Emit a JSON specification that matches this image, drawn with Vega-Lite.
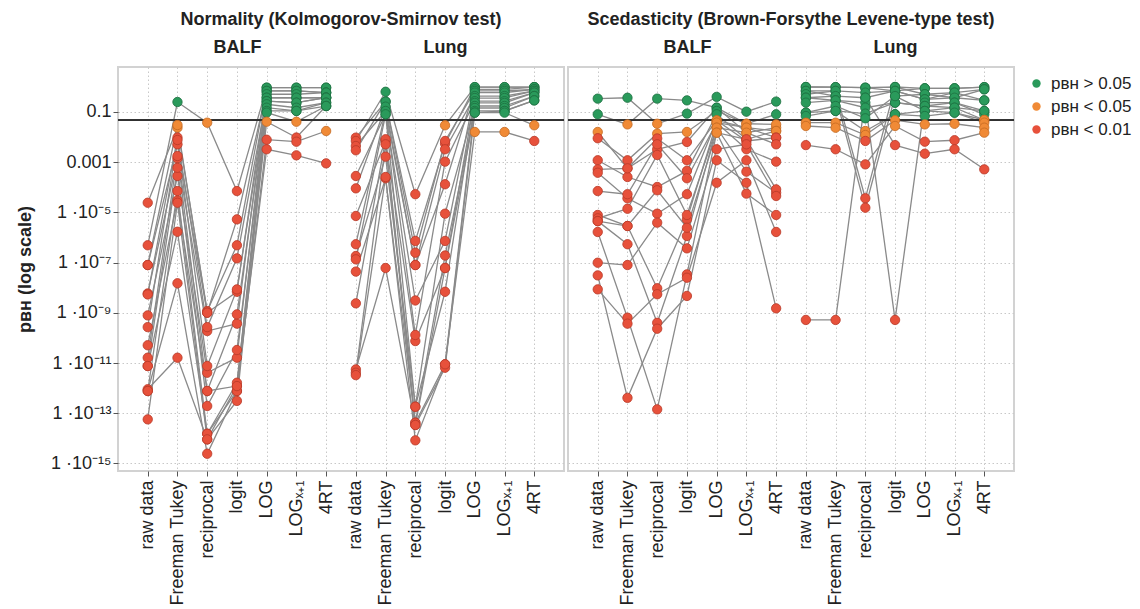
{
"$schema": "https://vega.github.io/schema/vega-lite/v6.json",
"background": "white",
"padding": {"left": 15, "top": 10, "right": 0, "bottom": 0},
"config": {"font": "Liberation Sans", "view": {"stroke": "#d2d2d2", "strokeWidth": 2}, "concat": {"spacing": 0}},
"datasets": {"pv": [
{"test":"N","col":"BALF|raw data","series":"B1","p":2.43e-5},{"test":"N","col":"BALF|Freeman Tukey","series":"B1","p":0.0237},{"test":"N","col":"BALF|reciprocal","series":"B1","p":1.18e-9},{"test":"N","col":"BALF|logit","series":"B1","p":4.9e-7},{"test":"N","col":"BALF|LOG","series":"B1","p":0.93},{"test":"N","col":"BALF|LOGx+1","series":"B1","p":0.93},{"test":"N","col":"BALF|4RT","series":"B1","p":0.93},
{"test":"N","col":"BALF|raw data","series":"B2","p":4.9e-7},{"test":"N","col":"BALF|Freeman Tukey","series":"B2","p":0.25},{"test":"N","col":"BALF|reciprocal","series":"B2","p":0.0375},{"test":"N","col":"BALF|logit","series":"B2","p":7.1e-5},{"test":"N","col":"BALF|LOG","series":"B2","p":0.93},{"test":"N","col":"BALF|LOGx+1","series":"B2","p":0.93},{"test":"N","col":"BALF|4RT","series":"B2","p":0.93},
{"test":"N","col":"BALF|raw data","series":"B3","p":8.0e-8},{"test":"N","col":"BALF|Freeman Tukey","series":"B3","p":0.00516},{"test":"N","col":"BALF|reciprocal","series":"B3","p":1.01e-9},{"test":"N","col":"BALF|logit","series":"B3","p":6.9e-9},{"test":"N","col":"BALF|LOG","series":"B3","p":0.69},{"test":"N","col":"BALF|LOGx+1","series":"B3","p":0.69},{"test":"N","col":"BALF|4RT","series":"B3","p":0.59},
{"test":"N","col":"BALF|raw data","series":"B4","p":8.0e-8},{"test":"N","col":"BALF|Freeman Tukey","series":"B4","p":0.0303},{"test":"N","col":"BALF|reciprocal","series":"B4","p":1.01e-9},{"test":"N","col":"BALF|logit","series":"B4","p":5.3e-6},{"test":"N","col":"BALF|LOG","series":"B4","p":0.69},{"test":"N","col":"BALF|LOGx+1","series":"B4","p":0.69},{"test":"N","col":"BALF|4RT","series":"B4","p":0.59},
{"test":"N","col":"BALF|raw data","series":"B5","p":5.9e-9},{"test":"N","col":"BALF|Freeman Tukey","series":"B5","p":0.00143},{"test":"N","col":"BALF|reciprocal","series":"B5","p":1.88e-10},{"test":"N","col":"BALF|logit","series":"B5","p":3.7e-10},{"test":"N","col":"BALF|LOG","series":"B5","p":0.51},{"test":"N","col":"BALF|LOGx+1","series":"B5","p":0.51},{"test":"N","col":"BALF|4RT","series":"B5","p":0.59},
{"test":"N","col":"BALF|raw data","series":"B6","p":5.4e-9},{"test":"N","col":"BALF|Freeman Tukey","series":"B6","p":0.0096},{"test":"N","col":"BALF|reciprocal","series":"B6","p":2.7e-10},{"test":"N","col":"BALF|logit","series":"B6","p":1.48e-7},{"test":"N","col":"BALF|LOG","series":"B6","p":0.37},{"test":"N","col":"BALF|LOGx+1","series":"B6","p":0.37},{"test":"N","col":"BALF|4RT","series":"B6","p":0.37},
{"test":"N","col":"BALF|raw data","series":"B7","p":7.9e-10},{"test":"N","col":"BALF|Freeman Tukey","series":"B7","p":0.000282},{"test":"N","col":"BALF|reciprocal","series":"B7","p":4.1e-12},{"test":"N","col":"BALF|logit","series":"B7","p":1.63e-11},{"test":"N","col":"BALF|LOG","series":"B7","p":0.37},{"test":"N","col":"BALF|LOGx+1","series":"B7","p":0.37},{"test":"N","col":"BALF|4RT","series":"B7","p":0.37},
{"test":"N","col":"BALF|raw data","series":"B8","p":2.7e-10},{"test":"N","col":"BALF|Freeman Tukey","series":"B8","p":0.00766},{"test":"N","col":"BALF|reciprocal","series":"B8","p":7.6e-12},{"test":"N","col":"BALF|logit","series":"B8","p":8.6e-9},{"test":"N","col":"BALF|LOG","series":"B8","p":0.27},{"test":"N","col":"BALF|LOGx+1","series":"B8","p":0.235},{"test":"N","col":"BALF|4RT","series":"B8","p":0.37},
{"test":"N","col":"BALF|raw data","series":"B9","p":5.1e-11},{"test":"N","col":"BALF|Freeman Tukey","series":"B9","p":3.0e-5},{"test":"N","col":"BALF|reciprocal","series":"B9","p":7.7e-13},{"test":"N","col":"BALF|logit","series":"B9","p":1.21e-12},{"test":"N","col":"BALF|LOG","series":"B9","p":0.27},{"test":"N","col":"BALF|LOGx+1","series":"B9","p":0.235},{"test":"N","col":"BALF|4RT","series":"B9","p":0.37},
{"test":"N","col":"BALF|raw data","series":"B10","p":1.63e-11},{"test":"N","col":"BALF|Freeman Tukey","series":"B10","p":0.00177},{"test":"N","col":"BALF|reciprocal","series":"B10","p":7.7e-13},{"test":"N","col":"BALF|logit","series":"B10","p":8.7e-10},{"test":"N","col":"BALF|LOG","series":"B10","p":0.203},{"test":"N","col":"BALF|LOGx+1","series":"B10","p":0.148},{"test":"N","col":"BALF|4RT","series":"B10","p":0.235},
{"test":"N","col":"BALF|raw data","series":"B11","p":7.6e-12},{"test":"N","col":"BALF|Freeman Tukey","series":"B11","p":1.7e-6},{"test":"N","col":"BALF|reciprocal","series":"B11","p":1.52e-14},{"test":"N","col":"BALF|logit","series":"B11","p":7.7e-13},{"test":"N","col":"BALF|LOG","series":"B11","p":0.148},{"test":"N","col":"BALF|LOGx+1","series":"B11","p":0.11},{"test":"N","col":"BALF|4RT","series":"B11","p":0.235},
{"test":"N","col":"BALF|raw data","series":"B12","p":7.6e-12},{"test":"N","col":"BALF|Freeman Tukey","series":"B12","p":0.0006},{"test":"N","col":"BALF|reciprocal","series":"B12","p":1.94e-13},{"test":"N","col":"BALF|logit","series":"B12","p":3.3e-11},{"test":"N","col":"BALF|LOG","series":"B12","p":0.11},{"test":"N","col":"BALF|LOGx+1","series":"B12","p":0.11},{"test":"N","col":"BALF|4RT","series":"B12","p":0.173},
{"test":"N","col":"BALF|raw data","series":"B13","p":9.0e-13},{"test":"N","col":"BALF|Freeman Tukey","series":"B13","p":1.63e-11},{"test":"N","col":"BALF|reciprocal","series":"B13","p":9.1e-15},{"test":"N","col":"BALF|logit","series":"B13","p":3.1e-13},{"test":"N","col":"BALF|LOG","series":"B13","p":0.094},{"test":"N","col":"BALF|LOGx+1","series":"B13","p":0.041},{"test":"N","col":"BALF|4RT","series":"B13","p":0.173},
{"test":"N","col":"BALF|raw data","series":"B14","p":7.7e-13},{"test":"N","col":"BALF|Freeman Tukey","series":"B14","p":7.1e-5},{"test":"N","col":"BALF|reciprocal","series":"B14","p":1.52e-14},{"test":"N","col":"BALF|logit","series":"B14","p":1.64e-12},{"test":"N","col":"BALF|LOG","series":"B14","p":0.041},{"test":"N","col":"BALF|LOGx+1","series":"B14","p":0.0096},{"test":"N","col":"BALF|4RT","series":"B14","p":0.173},
{"test":"N","col":"BALF|raw data","series":"B15","p":7.7e-13},{"test":"N","col":"BALF|Freeman Tukey","series":"B15","p":1.5e-8},{"test":"N","col":"BALF|reciprocal","series":"B15","p":2.43e-15},{"test":"N","col":"BALF|logit","series":"B15","p":7.7e-13},{"test":"N","col":"BALF|LOG","series":"B15","p":0.00787},{"test":"N","col":"BALF|LOGx+1","series":"B15","p":0.00656},{"test":"N","col":"BALF|4RT","series":"B15","p":0.0175},
{"test":"N","col":"BALF|raw data","series":"B16","p":5.7e-14},{"test":"N","col":"BALF|Freeman Tukey","series":"B16","p":2.43e-5},{"test":"N","col":"BALF|reciprocal","series":"B16","p":9.1e-15},{"test":"N","col":"BALF|logit","series":"B16","p":1.21e-12},{"test":"N","col":"BALF|LOG","series":"B16","p":0.00327},{"test":"N","col":"BALF|LOGx+1","series":"B16","p":0.00188},{"test":"N","col":"BALF|4RT","series":"B16","p":0.0009},
{"test":"N","col":"Lung|raw data","series":"L1","p":0.0095},{"test":"N","col":"Lung|Freeman Tukey","series":"L1","p":0.26},{"test":"N","col":"Lung|reciprocal","series":"L1","p":7.3e-7},{"test":"N","col":"Lung|logit","series":"L1","p":0.00546},{"test":"N","col":"Lung|LOG","series":"L1","p":0.98},{"test":"N","col":"Lung|LOGx+1","series":"L1","p":0.98},{"test":"N","col":"Lung|4RT","series":"L1","p":0.98},
{"test":"N","col":"Lung|raw data","series":"L2","p":0.007},{"test":"N","col":"Lung|Freeman Tukey","series":"L2","p":0.64},{"test":"N","col":"Lung|reciprocal","series":"L2","p":5.3e-5},{"test":"N","col":"Lung|logit","series":"L2","p":0.0295},{"test":"N","col":"Lung|LOG","series":"L2","p":0.98},{"test":"N","col":"Lung|LOGx+1","series":"L2","p":0.98},{"test":"N","col":"Lung|4RT","series":"L2","p":0.98},
{"test":"N","col":"Lung|raw data","series":"L3","p":0.00442},{"test":"N","col":"Lung|Freeman Tukey","series":"L3","p":0.11},{"test":"N","col":"Lung|reciprocal","series":"L3","p":8.0e-8},{"test":"N","col":"Lung|logit","series":"L3","p":0.000132},{"test":"N","col":"Lung|LOG","series":"L3","p":0.8},{"test":"N","col":"Lung|LOGx+1","series":"L3","p":0.8},{"test":"N","col":"Lung|4RT","series":"L3","p":0.98},
{"test":"N","col":"Lung|raw data","series":"L4","p":0.00298},{"test":"N","col":"Lung|Freeman Tukey","series":"L4","p":0.26},{"test":"N","col":"Lung|reciprocal","series":"L4","p":2.48e-7},{"test":"N","col":"Lung|logit","series":"L4","p":0.007},{"test":"N","col":"Lung|LOG","series":"L4","p":0.69},{"test":"N","col":"Lung|LOGx+1","series":"L4","p":0.69},{"test":"N","col":"Lung|4RT","series":"L4","p":0.8},
{"test":"N","col":"Lung|raw data","series":"L5","p":0.000282},{"test":"N","col":"Lung|Freeman Tukey","series":"L5","p":0.081},{"test":"N","col":"Lung|reciprocal","series":"L5","p":3.1e-9},{"test":"N","col":"Lung|logit","series":"L5","p":7.3e-7},{"test":"N","col":"Lung|LOG","series":"L5","p":0.59},{"test":"N","col":"Lung|LOGx+1","series":"L5","p":0.59},{"test":"N","col":"Lung|4RT","series":"L5","p":0.8},
{"test":"N","col":"Lung|raw data","series":"L6","p":9.1e-5},{"test":"N","col":"Lung|Freeman Tukey","series":"L6","p":0.163},{"test":"N","col":"Lung|reciprocal","series":"L6","p":8.0e-8},{"test":"N","col":"Lung|logit","series":"L6","p":0.00327},{"test":"N","col":"Lung|LOG","series":"L6","p":0.43},{"test":"N","col":"Lung|LOGx+1","series":"L6","p":0.43},{"test":"N","col":"Lung|4RT","series":"L6","p":0.69},
{"test":"N","col":"Lung|raw data","series":"L7","p":7.2e-6},{"test":"N","col":"Lung|Freeman Tukey","series":"L7","p":0.007},{"test":"N","col":"Lung|reciprocal","series":"L7","p":7.5e-11},{"test":"N","col":"Lung|logit","series":"L7","p":6.1e-8},{"test":"N","col":"Lung|LOG","series":"L7","p":0.36},{"test":"N","col":"Lung|LOGx+1","series":"L7","p":0.36},{"test":"N","col":"Lung|4RT","series":"L7","p":0.69},
{"test":"N","col":"Lung|raw data","series":"L8","p":5.4e-7},{"test":"N","col":"Lung|Freeman Tukey","series":"L8","p":0.11},{"test":"N","col":"Lung|reciprocal","series":"L8","p":1.31e-10},{"test":"N","col":"Lung|logit","series":"L8","p":0.00105},{"test":"N","col":"Lung|LOG","series":"L8","p":0.27},{"test":"N","col":"Lung|LOGx+1","series":"L8","p":0.27},{"test":"N","col":"Lung|4RT","series":"L8","p":0.59},
{"test":"N","col":"Lung|raw data","series":"L9","p":1.83e-7},{"test":"N","col":"Lung|Freeman Tukey","series":"L9","p":0.00166},{"test":"N","col":"Lung|reciprocal","series":"L9","p":1.82e-13},{"test":"N","col":"Lung|logit","series":"L9","p":6.9e-9},{"test":"N","col":"Lung|LOG","series":"L9","p":0.23},{"test":"N","col":"Lung|LOGx+1","series":"L9","p":0.23},{"test":"N","col":"Lung|4RT","series":"L9","p":0.59},
{"test":"N","col":"Lung|raw data","series":"L10","p":1.35e-7},{"test":"N","col":"Lung|Freeman Tukey","series":"L10","p":0.081},{"test":"N","col":"Lung|reciprocal","series":"L10","p":1.82e-13},{"test":"N","col":"Lung|logit","series":"L10","p":8.9e-6},{"test":"N","col":"Lung|LOG","series":"L10","p":0.173},{"test":"N","col":"Lung|LOGx+1","series":"L10","p":0.173},{"test":"N","col":"Lung|4RT","series":"L10","p":0.43},
{"test":"N","col":"Lung|raw data","series":"L11","p":4.4e-8},{"test":"N","col":"Lung|Freeman Tukey","series":"L11","p":0.000229},{"test":"N","col":"Lung|reciprocal","series":"L11","p":4.2e-14},{"test":"N","col":"Lung|logit","series":"L11","p":8.9e-12},{"test":"N","col":"Lung|LOG","series":"L11","p":0.144},{"test":"N","col":"Lung|LOGx+1","series":"L11","p":0.144},{"test":"N","col":"Lung|4RT","series":"L11","p":0.43},
{"test":"N","col":"Lung|raw data","series":"L12","p":2.39e-9},{"test":"N","col":"Lung|Freeman Tukey","series":"L12","p":0.0082},{"test":"N","col":"Lung|reciprocal","series":"L12","p":4.2e-14},{"test":"N","col":"Lung|logit","series":"L12","p":1.92e-7},{"test":"N","col":"Lung|LOG","series":"L12","p":0.11},{"test":"N","col":"Lung|LOGx+1","series":"L12","p":0.11},{"test":"N","col":"Lung|4RT","series":"L12","p":0.29},
{"test":"N","col":"Lung|raw data","series":"L13","p":5.6e-12},{"test":"N","col":"Lung|Freeman Tukey","series":"L13","p":6.1e-8},{"test":"N","col":"Lung|reciprocal","series":"L13","p":3.4e-14},{"test":"N","col":"Lung|logit","series":"L13","p":6.5e-12},{"test":"N","col":"Lung|LOG","series":"L13","p":0.094},{"test":"N","col":"Lung|LOGx+1","series":"L13","p":0.11},{"test":"N","col":"Lung|4RT","series":"L13","p":0.29},
{"test":"N","col":"Lung|raw data","series":"L14","p":4.1e-12},{"test":"N","col":"Lung|Freeman Tukey","series":"L14","p":0.00516},{"test":"N","col":"Lung|reciprocal","series":"L14","p":3.4e-14},{"test":"N","col":"Lung|logit","series":"L14","p":6.1e-8},{"test":"N","col":"Lung|LOG","series":"L14","p":0.094},{"test":"N","col":"Lung|LOGx+1","series":"L14","p":0.094},{"test":"N","col":"Lung|4RT","series":"L14","p":0.0295},
{"test":"N","col":"Lung|raw data","series":"L15","p":3.3e-12},{"test":"N","col":"Lung|Freeman Tukey","series":"L15","p":0.000257},{"test":"N","col":"Lung|reciprocal","series":"L15","p":8.3e-15},{"test":"N","col":"Lung|logit","series":"L15","p":8.9e-12},{"test":"N","col":"Lung|LOG","series":"L15","p":0.016},{"test":"N","col":"Lung|LOGx+1","series":"L15","p":0.016},{"test":"N","col":"Lung|4RT","series":"L15","p":0.007},
{"test":"S","col":"BALF|raw data","series":"B1","p":0.34},{"test":"S","col":"BALF|Freeman Tukey","series":"B1","p":0.37},{"test":"S","col":"BALF|reciprocal","series":"B1","p":0.034},{"test":"S","col":"BALF|logit","series":"B1","p":0.086},{"test":"S","col":"BALF|LOG","series":"B1","p":0.4},{"test":"S","col":"BALF|LOGx+1","series":"B1","p":0.103},{"test":"S","col":"BALF|4RT","series":"B1","p":0.26},
{"test":"S","col":"BALF|raw data","series":"B2","p":0.081},{"test":"S","col":"BALF|Freeman Tukey","series":"B2","p":0.032},{"test":"S","col":"BALF|reciprocal","series":"B2","p":0.34},{"test":"S","col":"BALF|logit","series":"B2","p":0.29},{"test":"S","col":"BALF|LOG","series":"B2","p":0.148},{"test":"S","col":"BALF|LOGx+1","series":"B2","p":0.034},{"test":"S","col":"BALF|4RT","series":"B2","p":0.081},
{"test":"S","col":"BALF|raw data","series":"B3","p":0.016},{"test":"S","col":"BALF|Freeman Tukey","series":"B3","p":0.00057},{"test":"S","col":"BALF|reciprocal","series":"B3","p":0.00327},{"test":"S","col":"BALF|logit","series":"B3","p":0.0064},{"test":"S","col":"BALF|LOG","series":"B3","p":0.148},{"test":"S","col":"BALF|LOGx+1","series":"B3","p":0.015},{"test":"S","col":"BALF|4RT","series":"B3","p":0.0237},
{"test":"S","col":"BALF|raw data","series":"B4","p":0.009},{"test":"S","col":"BALF|Freeman Tukey","series":"B4","p":0.00119},{"test":"S","col":"BALF|reciprocal","series":"B4","p":0.0137},{"test":"S","col":"BALF|logit","series":"B4","p":0.016},{"test":"S","col":"BALF|LOG","series":"B4","p":0.11},{"test":"S","col":"BALF|LOGx+1","series":"B4","p":0.034},{"test":"S","col":"BALF|4RT","series":"B4","p":0.032},
{"test":"S","col":"BALF|raw data","series":"B5","p":0.00119},{"test":"S","col":"BALF|Freeman Tukey","series":"B5","p":0.000257},{"test":"S","col":"BALF|reciprocal","series":"B5","p":0.000103},{"test":"S","col":"BALF|logit","series":"B5","p":0.00045},{"test":"S","col":"BALF|LOG","series":"B5","p":0.081},{"test":"S","col":"BALF|LOGx+1","series":"B5","p":0.0082},{"test":"S","col":"BALF|4RT","series":"B5","p":0.0175},
{"test":"S","col":"BALF|raw data","series":"B6","p":0.00052},{"test":"S","col":"BALF|Freeman Tukey","series":"B6","p":0.00057},{"test":"S","col":"BALF|reciprocal","series":"B6","p":0.0088},{"test":"S","col":"BALF|logit","series":"B6","p":0.00119},{"test":"S","col":"BALF|LOG","series":"B6","p":0.046},{"test":"S","col":"BALF|LOGx+1","series":"B6","p":0.0237},{"test":"S","col":"BALF|4RT","series":"B6","p":0.0175},
{"test":"S","col":"BALF|raw data","series":"B7","p":0.00038},{"test":"S","col":"BALF|Freeman Tukey","series":"B7","p":3.65e-5},{"test":"S","col":"BALF|reciprocal","series":"B7","p":8.9e-6},{"test":"S","col":"BALF|logit","series":"B7","p":5.3e-5},{"test":"S","col":"BALF|LOG","series":"B7","p":0.046},{"test":"S","col":"BALF|LOGx+1","series":"B7","p":0.007},{"test":"S","col":"BALF|4RT","series":"B7","p":0.0095},
{"test":"S","col":"BALF|raw data","series":"B8","p":7.1e-5},{"test":"S","col":"BALF|Freeman Tukey","series":"B8","p":5.3e-5},{"test":"S","col":"BALF|reciprocal","series":"B8","p":0.00516},{"test":"S","col":"BALF|logit","series":"B8","p":0.000229},{"test":"S","col":"BALF|LOG","series":"B8","p":0.0375},{"test":"S","col":"BALF|LOGx+1","series":"B8","p":0.0237},{"test":"S","col":"BALF|4RT","series":"B8","p":0.0095},
{"test":"S","col":"BALF|raw data","series":"B9","p":7.9e-6},{"test":"S","col":"BALF|Freeman Tukey","series":"B9","p":2.87e-6},{"test":"S","col":"BALF|reciprocal","series":"B9","p":9.5e-9},{"test":"S","col":"BALF|logit","series":"B9","p":5.3e-6},{"test":"S","col":"BALF|LOG","series":"B9","p":0.0375},{"test":"S","col":"BALF|LOGx+1","series":"B9","p":0.00327},{"test":"S","col":"BALF|4RT","series":"B9","p":0.00105},
{"test":"S","col":"BALF|raw data","series":"B10","p":5.8e-6},{"test":"S","col":"BALF|Freeman Tukey","series":"B10","p":1.4e-5},{"test":"S","col":"BALF|reciprocal","series":"B10","p":0.00194},{"test":"S","col":"BALF|logit","series":"B10","p":7.9e-6},{"test":"S","col":"BALF|LOG","series":"B10","p":0.0237},{"test":"S","col":"BALF|LOGx+1","series":"B10","p":0.015},{"test":"S","col":"BALF|4RT","series":"B10","p":0.00516},
{"test":"S","col":"BALF|raw data","series":"B11","p":4.5e-6},{"test":"S","col":"BALF|Freeman Tukey","series":"B11","p":5.4e-7},{"test":"S","col":"BALF|reciprocal","series":"B11","p":4.0e-10},{"test":"S","col":"BALF|logit","series":"B11","p":1.15e-6},{"test":"S","col":"BALF|LOG","series":"B11","p":0.0237},{"test":"S","col":"BALF|LOGx+1","series":"B11","p":0.00042},{"test":"S","col":"BALF|4RT","series":"B11","p":6.1e-5},
{"test":"S","col":"BALF|raw data","series":"B12","p":4.5e-6},{"test":"S","col":"BALF|Freeman Tukey","series":"B12","p":2.87e-6},{"test":"S","col":"BALF|reciprocal","series":"B12","p":7.6e-5},{"test":"S","col":"BALF|logit","series":"B12","p":2.45e-6},{"test":"S","col":"BALF|LOG","series":"B12","p":0.015},{"test":"S","col":"BALF|LOGx+1","series":"B12","p":0.0082},{"test":"S","col":"BALF|4RT","series":"B12","p":8.3e-5},
{"test":"S","col":"BALF|raw data","series":"B13","p":1.66e-6},{"test":"S","col":"BALF|Freeman Tukey","series":"B13","p":6.4e-10},{"test":"S","col":"BALF|reciprocal","series":"B13","p":1.43e-13},{"test":"S","col":"BALF|logit","series":"B13","p":3.4e-8},{"test":"S","col":"BALF|LOG","series":"B13","p":0.015},{"test":"S","col":"BALF|LOGx+1","series":"B13","p":5.6e-5},{"test":"S","col":"BALF|4RT","series":"B13","p":7.9e-6},
{"test":"S","col":"BALF|raw data","series":"B14","p":9.9e-8},{"test":"S","col":"BALF|Freeman Tukey","series":"B14","p":8.0e-8},{"test":"S","col":"BALF|reciprocal","series":"B14","p":3.9e-6},{"test":"S","col":"BALF|logit","series":"B14","p":3.7e-7},{"test":"S","col":"BALF|LOG","series":"B14","p":0.00327},{"test":"S","col":"BALF|LOGx+1","series":"B14","p":0.00516},{"test":"S","col":"BALF|4RT","series":"B14","p":4.5e-5},
{"test":"S","col":"BALF|raw data","series":"B15","p":3.1e-8},{"test":"S","col":"BALF|Freeman Tukey","series":"B15","p":4.1e-13},{"test":"S","col":"BALF|reciprocal","series":"B15","p":2.33e-10},{"test":"S","col":"BALF|logit","series":"B15","p":4.7e-9},{"test":"S","col":"BALF|LOG","series":"B15","p":0.00119},{"test":"S","col":"BALF|LOGx+1","series":"B15","p":0.000152},{"test":"S","col":"BALF|4RT","series":"B15","p":1.51e-9},
{"test":"S","col":"BALF|raw data","series":"B16","p":8.6e-9},{"test":"S","col":"BALF|Freeman Tukey","series":"B16","p":3.7e-10},{"test":"S","col":"BALF|reciprocal","series":"B16","p":5.5e-9},{"test":"S","col":"BALF|logit","series":"B16","p":2.5e-8},{"test":"S","col":"BALF|LOG","series":"B16","p":0.000152},{"test":"S","col":"BALF|LOGx+1","series":"B16","p":0.00119},{"test":"S","col":"BALF|4RT","series":"B16","p":1.66e-6},
{"test":"S","col":"Lung|raw data","series":"L1","p":0.99},{"test":"S","col":"Lung|Freeman Tukey","series":"L1","p":0.98},{"test":"S","col":"Lung|reciprocal","series":"L1","p":0.93},{"test":"S","col":"Lung|logit","series":"L1","p":0.99},{"test":"S","col":"Lung|LOG","series":"L1","p":0.88},{"test":"S","col":"Lung|LOGx+1","series":"L1","p":0.88},{"test":"S","col":"Lung|4RT","series":"L1","p":0.98},
{"test":"S","col":"Lung|raw data","series":"L2","p":0.99},{"test":"S","col":"Lung|Freeman Tukey","series":"L2","p":0.98},{"test":"S","col":"Lung|reciprocal","series":"L2","p":0.93},{"test":"S","col":"Lung|logit","series":"L2","p":0.69},{"test":"S","col":"Lung|LOG","series":"L2","p":0.88},{"test":"S","col":"Lung|LOGx+1","series":"L2","p":0.88},{"test":"S","col":"Lung|4RT","series":"L2","p":0.98},
{"test":"S","col":"Lung|raw data","series":"L3","p":0.69},{"test":"S","col":"Lung|Freeman Tukey","series":"L3","p":0.69},{"test":"S","col":"Lung|reciprocal","series":"L3","p":3.65e-5},{"test":"S","col":"Lung|logit","series":"L3","p":0.99},{"test":"S","col":"Lung|LOG","series":"L3","p":0.51},{"test":"S","col":"Lung|LOGx+1","series":"L3","p":0.59},{"test":"S","col":"Lung|4RT","series":"L3","p":0.8},
{"test":"S","col":"Lung|raw data","series":"L4","p":0.69},{"test":"S","col":"Lung|Freeman Tukey","series":"L4","p":0.43},{"test":"S","col":"Lung|reciprocal","series":"L4","p":1.54e-5},{"test":"S","col":"Lung|logit","series":"L4","p":0.43},{"test":"S","col":"Lung|LOG","series":"L4","p":0.51},{"test":"S","col":"Lung|LOGx+1","series":"L4","p":0.37},{"test":"S","col":"Lung|4RT","series":"L4","p":0.8},
{"test":"S","col":"Lung|raw data","series":"L5","p":0.51},{"test":"S","col":"Lung|Freeman Tukey","series":"L5","p":0.69},{"test":"S","col":"Lung|reciprocal","series":"L5","p":0.59},{"test":"S","col":"Lung|logit","series":"L5","p":0.69},{"test":"S","col":"Lung|LOG","series":"L5","p":0.32},{"test":"S","col":"Lung|LOGx+1","series":"L5","p":0.59},{"test":"S","col":"Lung|4RT","series":"L5","p":0.29},
{"test":"S","col":"Lung|raw data","series":"L6","p":0.37},{"test":"S","col":"Lung|Freeman Tukey","series":"L6","p":0.43},{"test":"S","col":"Lung|reciprocal","series":"L6","p":0.37},{"test":"S","col":"Lung|logit","series":"L6","p":0.69},{"test":"S","col":"Lung|LOG","series":"L6","p":0.32},{"test":"S","col":"Lung|LOGx+1","series":"L6","p":0.37},{"test":"S","col":"Lung|4RT","series":"L6","p":0.29},
{"test":"S","col":"Lung|raw data","series":"L7","p":0.37},{"test":"S","col":"Lung|Freeman Tukey","series":"L7","p":0.29},{"test":"S","col":"Lung|reciprocal","series":"L7","p":0.235},{"test":"S","col":"Lung|logit","series":"L7","p":5.2e-10},{"test":"S","col":"Lung|LOG","series":"L7","p":0.235},{"test":"S","col":"Lung|LOGx+1","series":"L7","p":0.235},{"test":"S","col":"Lung|4RT","series":"L7","p":0.11},
{"test":"S","col":"Lung|raw data","series":"L8","p":0.235},{"test":"S","col":"Lung|Freeman Tukey","series":"L8","p":0.29},{"test":"S","col":"Lung|reciprocal","series":"L8","p":0.148},{"test":"S","col":"Lung|logit","series":"L8","p":0.235},{"test":"S","col":"Lung|LOG","series":"L8","p":0.173},{"test":"S","col":"Lung|LOGx+1","series":"L8","p":0.235},{"test":"S","col":"Lung|4RT","series":"L8","p":0.081},
{"test":"S","col":"Lung|raw data","series":"L9","p":0.094},{"test":"S","col":"Lung|Freeman Tukey","series":"L9","p":0.11},{"test":"S","col":"Lung|reciprocal","series":"L9","p":0.086},{"test":"S","col":"Lung|logit","series":"L9","p":0.235},{"test":"S","col":"Lung|LOG","series":"L9","p":0.173},{"test":"S","col":"Lung|LOGx+1","series":"L9","p":0.148},{"test":"S","col":"Lung|4RT","series":"L9","p":0.11},
{"test":"S","col":"Lung|raw data","series":"L10","p":0.094},{"test":"S","col":"Lung|Freeman Tukey","series":"L10","p":0.173},{"test":"S","col":"Lung|reciprocal","series":"L10","p":0.056},{"test":"S","col":"Lung|logit","series":"L10","p":0.43},{"test":"S","col":"Lung|LOG","series":"L10","p":0.11},{"test":"S","col":"Lung|LOGx+1","series":"L10","p":0.094},{"test":"S","col":"Lung|4RT","series":"L10","p":0.048},
{"test":"S","col":"Lung|raw data","series":"L11","p":0.069},{"test":"S","col":"Lung|Freeman Tukey","series":"L11","p":0.11},{"test":"S","col":"Lung|reciprocal","series":"L11","p":0.0175},{"test":"S","col":"Lung|logit","series":"L11","p":0.081},{"test":"S","col":"Lung|LOG","series":"L11","p":0.11},{"test":"S","col":"Lung|LOGx+1","series":"L11","p":0.148},{"test":"S","col":"Lung|4RT","series":"L11","p":0.048},
{"test":"S","col":"Lung|raw data","series":"L12","p":0.0375},{"test":"S","col":"Lung|Freeman Tukey","series":"L12","p":0.0375},{"test":"S","col":"Lung|reciprocal","series":"L12","p":0.0121},{"test":"S","col":"Lung|logit","series":"L12","p":0.081},{"test":"S","col":"Lung|LOG","series":"L12","p":0.069},{"test":"S","col":"Lung|LOGx+1","series":"L12","p":0.094},{"test":"S","col":"Lung|4RT","series":"L12","p":0.0375},
{"test":"S","col":"Lung|raw data","series":"L13","p":0.0277},{"test":"S","col":"Lung|Freeman Tukey","series":"L13","p":0.0237},{"test":"S","col":"Lung|reciprocal","series":"L13","p":0.007},{"test":"S","col":"Lung|logit","series":"L13","p":0.047},{"test":"S","col":"Lung|LOG","series":"L13","p":0.032},{"test":"S","col":"Lung|LOGx+1","series":"L13","p":0.034},{"test":"S","col":"Lung|4RT","series":"L13","p":0.0237},
{"test":"S","col":"Lung|raw data","series":"L14","p":0.0048},{"test":"S","col":"Lung|Freeman Tukey","series":"L14","p":0.00327},{"test":"S","col":"Lung|reciprocal","series":"L14","p":0.00082},{"test":"S","col":"Lung|logit","series":"L14","p":0.0277},{"test":"S","col":"Lung|LOG","series":"L14","p":0.00656},{"test":"S","col":"Lung|LOGx+1","series":"L14","p":0.0075},{"test":"S","col":"Lung|4RT","series":"L14","p":0.015},
{"test":"S","col":"Lung|raw data","series":"L15","p":5.2e-10},{"test":"S","col":"Lung|Freeman Tukey","series":"L15","p":5.2e-10},{"test":"S","col":"Lung|reciprocal","series":"L15","p":0.37},{"test":"S","col":"Lung|logit","series":"L15","p":0.0048},{"test":"S","col":"Lung|LOG","series":"L15","p":0.00218},{"test":"S","col":"Lung|LOGx+1","series":"L15","p":0.00327},{"test":"S","col":"Lung|4RT","series":"L15","p":0.00052}
]},
"resolve": {"scale": {"color": "shared", "stroke": "shared"}},
"hconcat": [
{
"width": 446, "height": 404,
"data": {"name": "pv"},
"title": {"text": "Normality (Kolmogorov-Smirnov test)", "fontSize": 18, "fontWeight": "bold", "color": "#222", "anchor": "middle", "offset": 9},
"transform": [
 {"filter": "datum.test == 'N'"},
 {"calculate": "indexof(['BALF|raw data','BALF|Freeman Tukey','BALF|reciprocal','BALF|logit','BALF|LOG','BALF|LOGx+1','BALF|4RT','Lung|raw data','Lung|Freeman Tukey','Lung|reciprocal','Lung|logit','Lung|LOG','Lung|LOGx+1','Lung|4RT'], datum.col)", "as": "k"},
 {"calculate": "datum.p > 0.05 ? 'pʙʜ > 0.05' : datum.p >= 0.01 ? 'pʙʜ < 0.05' : 'pʙʜ < 0.01'", "as": "cls"}
],
"layer": [
 {"mark": {"type": "line", "color": "#8a8a8a", "strokeWidth": 1.3},
  "encoding": {
   "x": {"field": "col", "type": "ordinal", "sort": ["BALF|raw data","BALF|Freeman Tukey","BALF|reciprocal","BALF|logit","BALF|LOG","BALF|LOGx+1","BALF|4RT","Lung|raw data","Lung|Freeman Tukey","Lung|reciprocal","Lung|logit","Lung|LOG","Lung|LOGx+1","Lung|4RT"], "scale": {"type": "point", "padding": 1.15},
     "axis": {"orient": "top", "title": null, "labelAngle": 0, "labelFontSize": 18, "labelFontWeight": "bold", "labelColor": "#222", "ticks": false, "domain": false, "grid": false, "labelPadding": 11, "labelOverlap": false, "labelExpr": "datum.value == 'BALF|logit' ? 'BALF' : datum.value == 'Lung|logit' ? 'Lung' : ''"}},
   "y": {"field": "p", "type": "quantitative", "scale": {"type": "log", "domain": [5e-16, 6.2], "nice": false},
     "axis": {"title": "pʙʜ (log scale)", "titleFontSize": 18, "titleFontWeight": "bold", "titleColor": "#222", "titlePadding": 16, "values": [0.1, 0.001, 1e-5, 1e-7, 1e-9, 1e-11, 1e-13, 1e-15], "labelExpr": "datum.value >= 0.01 ? '0.1' : datum.value >= 1e-4 ? '0.001' : datum.value >= 1e-6 ? '1 ·10⁻⁵' : datum.value >= 1e-8 ? '1 ·10⁻⁷' : datum.value >= 1e-10 ? '1 ·10⁻⁹' : datum.value >= 1e-12 ? '1 ·10⁻¹¹' : datum.value >= 1e-14 ? '1 ·10⁻¹³' : '1 ·10⁻¹⁵'", "labelFontSize": 18, "labelColor": "#222", "tickColor": "#555", "tickSize": 5, "domain": false, "grid": true, "gridColor": "#c8c8c8", "gridDash": [1.5, 2.5]}},
   "detail": {"field": "series"},
   "order": {"field": "k", "type": "quantitative"}}},
 {"mark": {"type": "rule", "color": "#333333", "strokeWidth": 1.2}, "encoding": {"y": {"datum": 0.05}}},
 {"mark": {"type": "circle", "size": 88, "opacity": 1, "strokeWidth": 0.8},
  "encoding": {
   "x": {"field": "col", "type": "ordinal", "sort": ["BALF|raw data","BALF|Freeman Tukey","BALF|reciprocal","BALF|logit","BALF|LOG","BALF|LOGx+1","BALF|4RT","Lung|raw data","Lung|Freeman Tukey","Lung|reciprocal","Lung|logit","Lung|LOG","Lung|LOGx+1","Lung|4RT"], "scale": {"type": "point", "padding": 1.15},
     "axis": {"orient": "bottom", "title": null, "labelAngle": -90, "labelFontSize": 18, "labelColor": "#222", "tickColor": "#555", "tickSize": 5, "domain": false, "grid": true, "gridColor": "#c8c8c8", "gridDash": [1.5, 2.5], "labelPadding": 4, "labelOverlap": false, "labelExpr": "split(datum.value, '|')[1] == 'LOGx+1' ? 'LOGₓ₊₁' : split(datum.value, '|')[1]"}},
   "y": {"field": "p", "type": "quantitative", "scale": {"type": "log", "domain": [5e-16, 6.2], "nice": false},
     "axis": {"title": "pʙʜ (log scale)", "titleFontSize": 18, "titleFontWeight": "bold", "titleColor": "#222", "titlePadding": 16, "values": [0.1, 0.001, 1e-5, 1e-7, 1e-9, 1e-11, 1e-13, 1e-15], "labelExpr": "datum.value >= 0.01 ? '0.1' : datum.value >= 1e-4 ? '0.001' : datum.value >= 1e-6 ? '1 ·10⁻⁵' : datum.value >= 1e-8 ? '1 ·10⁻⁷' : datum.value >= 1e-10 ? '1 ·10⁻⁹' : datum.value >= 1e-12 ? '1 ·10⁻¹¹' : datum.value >= 1e-14 ? '1 ·10⁻¹³' : '1 ·10⁻¹⁵'", "labelFontSize": 18, "labelColor": "#222", "tickColor": "#555", "tickSize": 5, "domain": false, "grid": true, "gridColor": "#c8c8c8", "gridDash": [1.5, 2.5]}},
   "color": {"field": "cls", "type": "nominal", "scale": {"domain": ["pʙʜ > 0.05", "pʙʜ < 0.05", "pʙʜ < 0.01"], "range": ["#2a9a5b", "#f08a36", "#e7513b"]},
     "legend": {"title": null, "orient": "right", "offset": 4, "padding": 8, "labelFontSize": 17, "labelColor": "#222", "symbolType": "circle", "symbolSize": 70, "symbolStrokeWidth": 0, "rowPadding": 5, "labelOffset": 6}},
   "stroke": {"field": "cls", "type": "nominal", "scale": {"domain": ["pʙʜ > 0.05", "pʙʜ < 0.05", "pʙʜ < 0.01"], "range": ["#1d6e40", "#c46a22", "#b83a28"]}, "legend": null}}}
],
"resolve": {"axis": {"x": "independent"}}
},
{
"width": 446, "height": 404,
"data": {"name": "pv"},
"title": {"text": "Scedasticity (Brown-Forsythe Levene-type test)", "fontSize": 18, "fontWeight": "bold", "color": "#222", "anchor": "middle", "offset": 9},
"transform": [
 {"filter": "datum.test == 'S'"},
 {"calculate": "indexof(['BALF|raw data','BALF|Freeman Tukey','BALF|reciprocal','BALF|logit','BALF|LOG','BALF|LOGx+1','BALF|4RT','Lung|raw data','Lung|Freeman Tukey','Lung|reciprocal','Lung|logit','Lung|LOG','Lung|LOGx+1','Lung|4RT'], datum.col)", "as": "k"},
 {"calculate": "datum.p > 0.05 ? 'pʙʜ > 0.05' : datum.p >= 0.01 ? 'pʙʜ < 0.05' : 'pʙʜ < 0.01'", "as": "cls"}
],
"layer": [
 {"mark": {"type": "line", "color": "#8a8a8a", "strokeWidth": 1.3},
  "encoding": {
   "x": {"field": "col", "type": "ordinal", "sort": ["BALF|raw data","BALF|Freeman Tukey","BALF|reciprocal","BALF|logit","BALF|LOG","BALF|LOGx+1","BALF|4RT","Lung|raw data","Lung|Freeman Tukey","Lung|reciprocal","Lung|logit","Lung|LOG","Lung|LOGx+1","Lung|4RT"], "scale": {"type": "point", "padding": 1.15},
     "axis": {"orient": "top", "title": null, "labelAngle": 0, "labelFontSize": 18, "labelFontWeight": "bold", "labelColor": "#222", "ticks": false, "domain": false, "grid": false, "labelPadding": 11, "labelOverlap": false, "labelExpr": "datum.value == 'BALF|logit' ? 'BALF' : datum.value == 'Lung|logit' ? 'Lung' : ''"}},
   "y": {"field": "p", "type": "quantitative", "scale": {"type": "log", "domain": [5e-16, 6.2], "nice": false},
     "axis": {"title": null, "labels": false, "ticks": false, "domain": false, "grid": true, "gridColor": "#c8c8c8", "gridDash": [1.5, 2.5], "values": [0.1, 0.001, 1e-5, 1e-7, 1e-9, 1e-11, 1e-13, 1e-15]}},
   "detail": {"field": "series"},
   "order": {"field": "k", "type": "quantitative"}}},
 {"mark": {"type": "rule", "color": "#333333", "strokeWidth": 1.2}, "encoding": {"y": {"datum": 0.05}}},
 {"mark": {"type": "circle", "size": 88, "opacity": 1, "strokeWidth": 0.8},
  "encoding": {
   "x": {"field": "col", "type": "ordinal", "sort": ["BALF|raw data","BALF|Freeman Tukey","BALF|reciprocal","BALF|logit","BALF|LOG","BALF|LOGx+1","BALF|4RT","Lung|raw data","Lung|Freeman Tukey","Lung|reciprocal","Lung|logit","Lung|LOG","Lung|LOGx+1","Lung|4RT"], "scale": {"type": "point", "padding": 1.15},
     "axis": {"orient": "bottom", "title": null, "labelAngle": -90, "labelFontSize": 18, "labelColor": "#222", "tickColor": "#555", "tickSize": 5, "domain": false, "grid": true, "gridColor": "#c8c8c8", "gridDash": [1.5, 2.5], "labelPadding": 4, "labelOverlap": false, "labelExpr": "split(datum.value, '|')[1] == 'LOGx+1' ? 'LOGₓ₊₁' : split(datum.value, '|')[1]"}},
   "y": {"field": "p", "type": "quantitative", "scale": {"type": "log", "domain": [5e-16, 6.2], "nice": false},
     "axis": {"title": null, "labels": false, "ticks": false, "domain": false, "grid": true, "gridColor": "#c8c8c8", "gridDash": [1.5, 2.5], "values": [0.1, 0.001, 1e-5, 1e-7, 1e-9, 1e-11, 1e-13, 1e-15]}},
   "color": {"field": "cls", "type": "nominal", "scale": {"domain": ["pʙʜ > 0.05", "pʙʜ < 0.05", "pʙʜ < 0.01"], "range": ["#2a9a5b", "#f08a36", "#e7513b"]},
     "legend": {"title": null, "orient": "right", "offset": 4, "padding": 8, "labelFontSize": 17, "labelColor": "#222", "symbolType": "circle", "symbolSize": 70, "symbolStrokeWidth": 0, "rowPadding": 5, "labelOffset": 6}},
   "stroke": {"field": "cls", "type": "nominal", "scale": {"domain": ["pʙʜ > 0.05", "pʙʜ < 0.05", "pʙʜ < 0.01"], "range": ["#1d6e40", "#c46a22", "#b83a28"]}, "legend": null}}}
],
"resolve": {"axis": {"x": "independent"}}
}
]
}
